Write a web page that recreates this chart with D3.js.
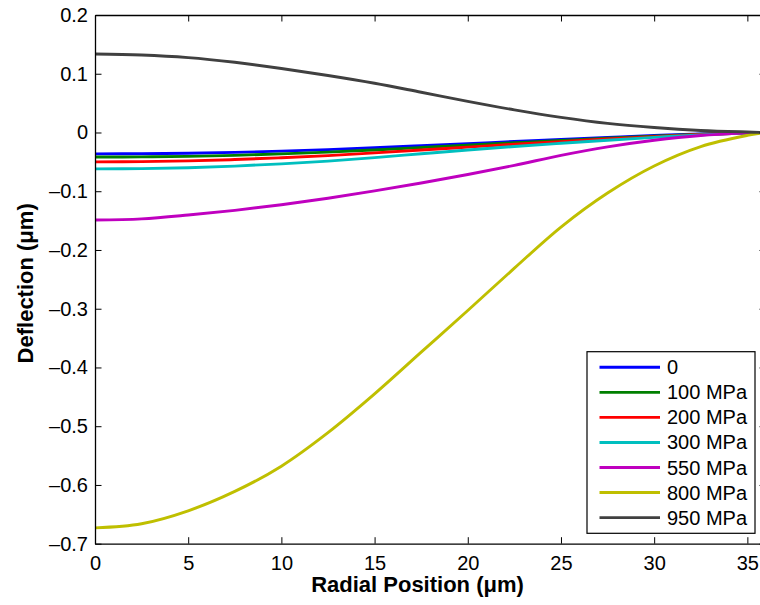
<!DOCTYPE html>
<html>
<head>
<meta charset="utf-8">
<script src="https://cdn.jsdelivr.net/npm/d3@7"></script>
<style>
  html, body { margin: 0; padding: 0; background: #fff; overflow: hidden; }
  svg { display: block; }
  text { font-family: "Liberation Sans", Arial, Helvetica, sans-serif; fill: #000; }
</style>
</head>
<body>
<svg id="chart" width="760" height="605"></svg>
<script>
// Radial sample positions (µm)
const radius = [0, 2.5, 5, 7.5, 10, 12.5, 15, 17.5, 20, 22.5, 25, 27.5, 30, 32.5, 35, 36];

// Deflection profiles (µm) for each residual stress level
const defl0    = [-0.0364, -0.0361, -0.0353, -0.0339, -0.0318, -0.0292, -0.0260, -0.0226, -0.0190, -0.0154, -0.0118, -0.0084, -0.0052, -0.0024, -0.0005, 0];
const defl100  = [-0.0418, -0.0415, -0.0406, -0.0389, -0.0364, -0.0334, -0.0297, -0.0256, -0.0215, -0.0175, -0.0136, -0.0098, -0.0062, -0.0030, -0.0007, 0];
const defl200  = [-0.0500, -0.0496, -0.0484, -0.0461, -0.0430, -0.0393, -0.0347, -0.0298, -0.0249, -0.0201, -0.0156, -0.0112, -0.0071, -0.0035, -0.0008, 0];
const defl300  = [-0.0620, -0.0615, -0.0600, -0.0572, -0.0534, -0.0487, -0.0428, -0.0362, -0.0298, -0.0238, -0.0184, -0.0132, -0.0084, -0.0040, -0.0009, 0];
const defl550  = [-0.1490, -0.1470, -0.1405, -0.1325, -0.1230, -0.1120, -0.0995, -0.0860, -0.0715, -0.0560, -0.0390, -0.0245, -0.0132, -0.0052, -0.0010, 0];
const defl800  = [-0.6730, -0.6660, -0.6440, -0.6110, -0.5680, -0.5110, -0.4450, -0.3740, -0.3030, -0.2310, -0.1610, -0.1030, -0.0570, -0.0240, -0.0050, 0];
const defl950  = [0.1337, 0.1320, 0.1275, 0.1195, 0.1090, 0.0970, 0.0838, 0.0685, 0.0530, 0.0385, 0.0258, 0.0155, 0.0085, 0.0035, 0.0008, 0];

const seriesNames  = ["0", "100 MPa", "200 MPa", "300 MPa", "550 MPa", "800 MPa", "950 MPa"];
const seriesColors = ["#0000ff", "#007f00", "#ff0000", "#00bfbf", "#bf00bf", "#bfbf00", "#404040"];
const seriesValues = [defl0, defl100, defl200, defl300, defl550, defl800, defl950];

const xTicks = [0, 5, 10, 15, 20, 25, 30, 35];
const yTicks = [0.2, 0.1, 0, -0.1, -0.2, -0.3, -0.4, -0.5, -0.6, -0.7];

const svg = d3.select("#chart");
const margin = { left: 95, top: 15, right: 766, bottom: 543.7 };

const x = d3.scaleLinear().domain([0, 36]).range([margin.left, margin.right]);
const y = d3.scaleLinear().domain([-0.7, 0.2]).range([margin.bottom, margin.top]);

const fmt = v => (v < 0 ? "\u2013" : "") + d3.format("")(Math.abs(+v.toFixed(1)));

svg.append("defs").append("clipPath").attr("id", "plot-clip")
  .append("rect")
  .attr("x", margin.left).attr("y", margin.top)
  .attr("width", margin.right - margin.left).attr("height", margin.bottom - margin.top);

// Curves
const line = d3.line().x((d, i) => x(radius[i])).y(d => y(d)).curve(d3.curveCatmullRom.alpha(0.5));
const curves = svg.append("g").attr("clip-path", "url(#plot-clip)");
seriesValues.forEach((vals, k) => {
  curves.append("path")
    .attr("d", line(vals))
    .attr("fill", "none")
    .attr("stroke", seriesColors[k])
    .attr("stroke-width", 2.9)
    .attr("stroke-linejoin", "round");
});

// Axes with inward ticks on all four sides
const tickLen = 6.5;
const axisStyle = g => {
  g.select(".domain").attr("stroke", "#000").attr("stroke-width", 1.3);
  g.selectAll(".tick line").attr("stroke", "#000").attr("stroke-width", 1);
};
svg.append("g").attr("transform", `translate(0,${margin.bottom})`)
  .call(d3.axisBottom(x).tickValues(xTicks).tickSize(-tickLen).tickSizeOuter(0).tickPadding(12).tickFormat(d3.format("")))
  .call(axisStyle)
  .call(g => g.selectAll(".tick text").attr("font-size", 20).attr("dy", "0.71em"));
svg.append("g").attr("transform", `translate(0,${margin.top})`)
  .call(d3.axisTop(x).tickValues(xTicks).tickSize(-tickLen).tickSizeOuter(0).tickFormat(""))
  .call(axisStyle);
svg.append("g").attr("transform", `translate(${margin.left},0)`)
  .call(d3.axisLeft(y).tickValues(yTicks).tickSize(-tickLen).tickSizeOuter(0).tickPadding(7).tickFormat(fmt))
  .call(axisStyle)
  .call(g => g.selectAll(".tick text").attr("font-size", 20));
svg.append("g").attr("transform", `translate(${margin.right},0)`)
  .call(d3.axisRight(y).tickValues(yTicks).tickSize(-tickLen).tickSizeOuter(0).tickFormat(""))
  .call(axisStyle);
svg.selectAll(".tick text").attr("fill", "#000").attr("font-family", "'Liberation Sans', Arial, sans-serif");

// Axis titles
svg.append("text")
  .attr("x", (margin.left + 740) / 2).attr("y", 592)
  .attr("text-anchor", "middle")
  .attr("font-size", 22).attr("font-weight", "bold")
  .text("Radial Position (\u03bcm)");
svg.append("text")
  .attr("transform", `translate(33,${(margin.top + margin.bottom) / 2 + 4}) rotate(-90)`)
  .attr("text-anchor", "middle")
  .attr("font-size", 22).attr("font-weight", "bold")
  .text("Deflection (\u03bcm)");

// Legend
const lg = svg.append("g");
lg.append("rect")
  .attr("x", 587).attr("y", 351.7).attr("width", 168).attr("height", 181.6)
  .attr("fill", "#fff").attr("stroke", "#000").attr("stroke-width", 1.2);
seriesNames.forEach((name, k) => {
  const cy = 367.3 + k * 25.05;
  lg.append("line")
    .attr("x1", 599.5).attr("x2", 660).attr("y1", cy).attr("y2", cy)
    .attr("stroke", seriesColors[k]).attr("stroke-width", 2.9);
  lg.append("text")
    .attr("x", 667).attr("y", cy + 7)
    .attr("font-size", 20)
    .text(name);
});
</script>
</body>
</html>
